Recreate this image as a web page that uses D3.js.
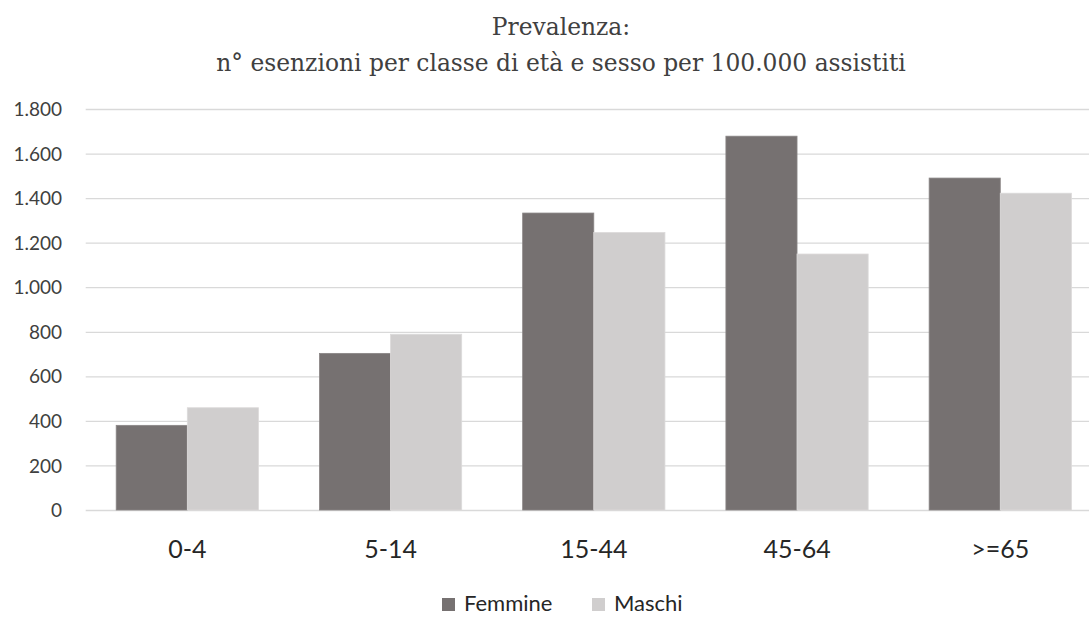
<!DOCTYPE html>
<html>
<head>
<meta charset="utf-8">
<script src="https://cdn.jsdelivr.net/npm/d3@7"></script>
<style>
  html, body { margin: 0; padding: 0; background: #fff; }
  svg { display: block; }
</style>
</head>
<body>
<svg id="chart" width="1089" height="617"></svg>
<script>
const categories = ["0-4", "5-14", "15-44", "45-64", ">=65"];
const seriesNames = ["Femmine", "Maschi"];
const femmine = [380, 703, 1333, 1678, 1490];
const maschi = [459, 789, 1246, 1149, 1422];
const yTicks = [0, 200, 400, 600, 800, 1000, 1200, 1400, 1600, 1800];
const colors = ["#767171", "#d0cece"];
const titleLines = ["Prevalenza:", "n° esenzioni per classe di età e sesso per 100.000 assistiti"];

const svg = d3.select("#chart");

const x = d3.scaleBand().domain(categories).range([85.7, 1101.9]).paddingInner(0.3).paddingOuter(0.15);
const x1 = d3.scaleBand().domain(seriesNames).range([0, x.bandwidth()]);
const y = d3.scaleLinear().domain([0, 1800]).range([510, 109]);

const fmt = v => d3.format(",")(v).replace(/,/g, ".");

// gridlines
const gy = svg.append("g").attr("transform", "translate(85.7,0)")
  .call(d3.axisLeft(y).tickValues(yTicks).tickSize(-(1101.9 - 85.7)).tickFormat(""));
gy.select(".domain").remove();
gy.selectAll(".tick line").attr("stroke", "#d9d9d9").attr("stroke-width", 1.3);

// y labels
const yl = svg.append("g").attr("transform", "translate(62,0)")
  .call(d3.axisLeft(y).tickValues(yTicks).tickSize(0).tickPadding(0).tickFormat(fmt));
yl.select(".domain").remove();
yl.selectAll("text").attr("font-family", "Lato, 'Open Sans', sans-serif").attr("font-size", 19).attr("fill", "#404040").attr("dy", "0.35em");

// bars
const data = categories.map((c, i) => ({ c, vals: [femmine[i], maschi[i]] }));
const groups = svg.append("g").selectAll("g").data(data).join("g")
  .attr("transform", d => `translate(${x(d.c)},0)`);
groups.selectAll("rect").data(d => d.vals.map((v, j) => ({ s: seriesNames[j], v, j })))
  .join("rect")
  .attr("x", d => x1(d.s))
  .attr("y", d => y(d.v))
  .attr("width", x1.bandwidth())
  .attr("height", d => y(0) - y(d.v))
  .attr("fill", d => colors[d.j])
  .attr("stroke", d => d.j === 0 ? "#8a8686" : "#dcdada")
  .attr("stroke-width", 0.8);

// x labels
const xa = svg.append("g").attr("transform", "translate(0,510)")
  .call(d3.axisBottom(x).tickSize(0).tickPadding(0));
xa.select(".domain").remove();
xa.selectAll("text").attr("y", 48).attr("dy", 0).attr("font-family", "Lato, 'Open Sans', sans-serif")
  .attr("font-size", 25).attr("fill", "#262626");

// title
const t = svg.append("g").attr("font-family", "'DejaVu Serif', serif").attr("fill", "#404040").attr("text-anchor", "middle");
const tt = t.selectAll("text").data(titleLines).join("text")
  .attr("x", 561).attr("y", (d, i) => [35, 71][i]).attr("font-size", 22).text(d => d);
const w2 = tt.nodes()[1].getComputedTextLength();
const fs = 22 * 690 / w2;
tt.attr("font-size", fs);

// legend
const lg = svg.append("g").attr("font-family", "Lato, 'Open Sans', sans-serif").attr("font-size", 22).attr("fill", "#262626");
const legendX = [442, 592];
seriesNames.forEach((s, i) => {
  lg.append("rect").attr("x", legendX[i]).attr("y", 598).attr("width", 13).attr("height", 13).attr("fill", colors[i]);
  lg.append("text").attr("x", legendX[i] + 22).attr("y", 611).text(s);
});
</script>
</body>
</html>
